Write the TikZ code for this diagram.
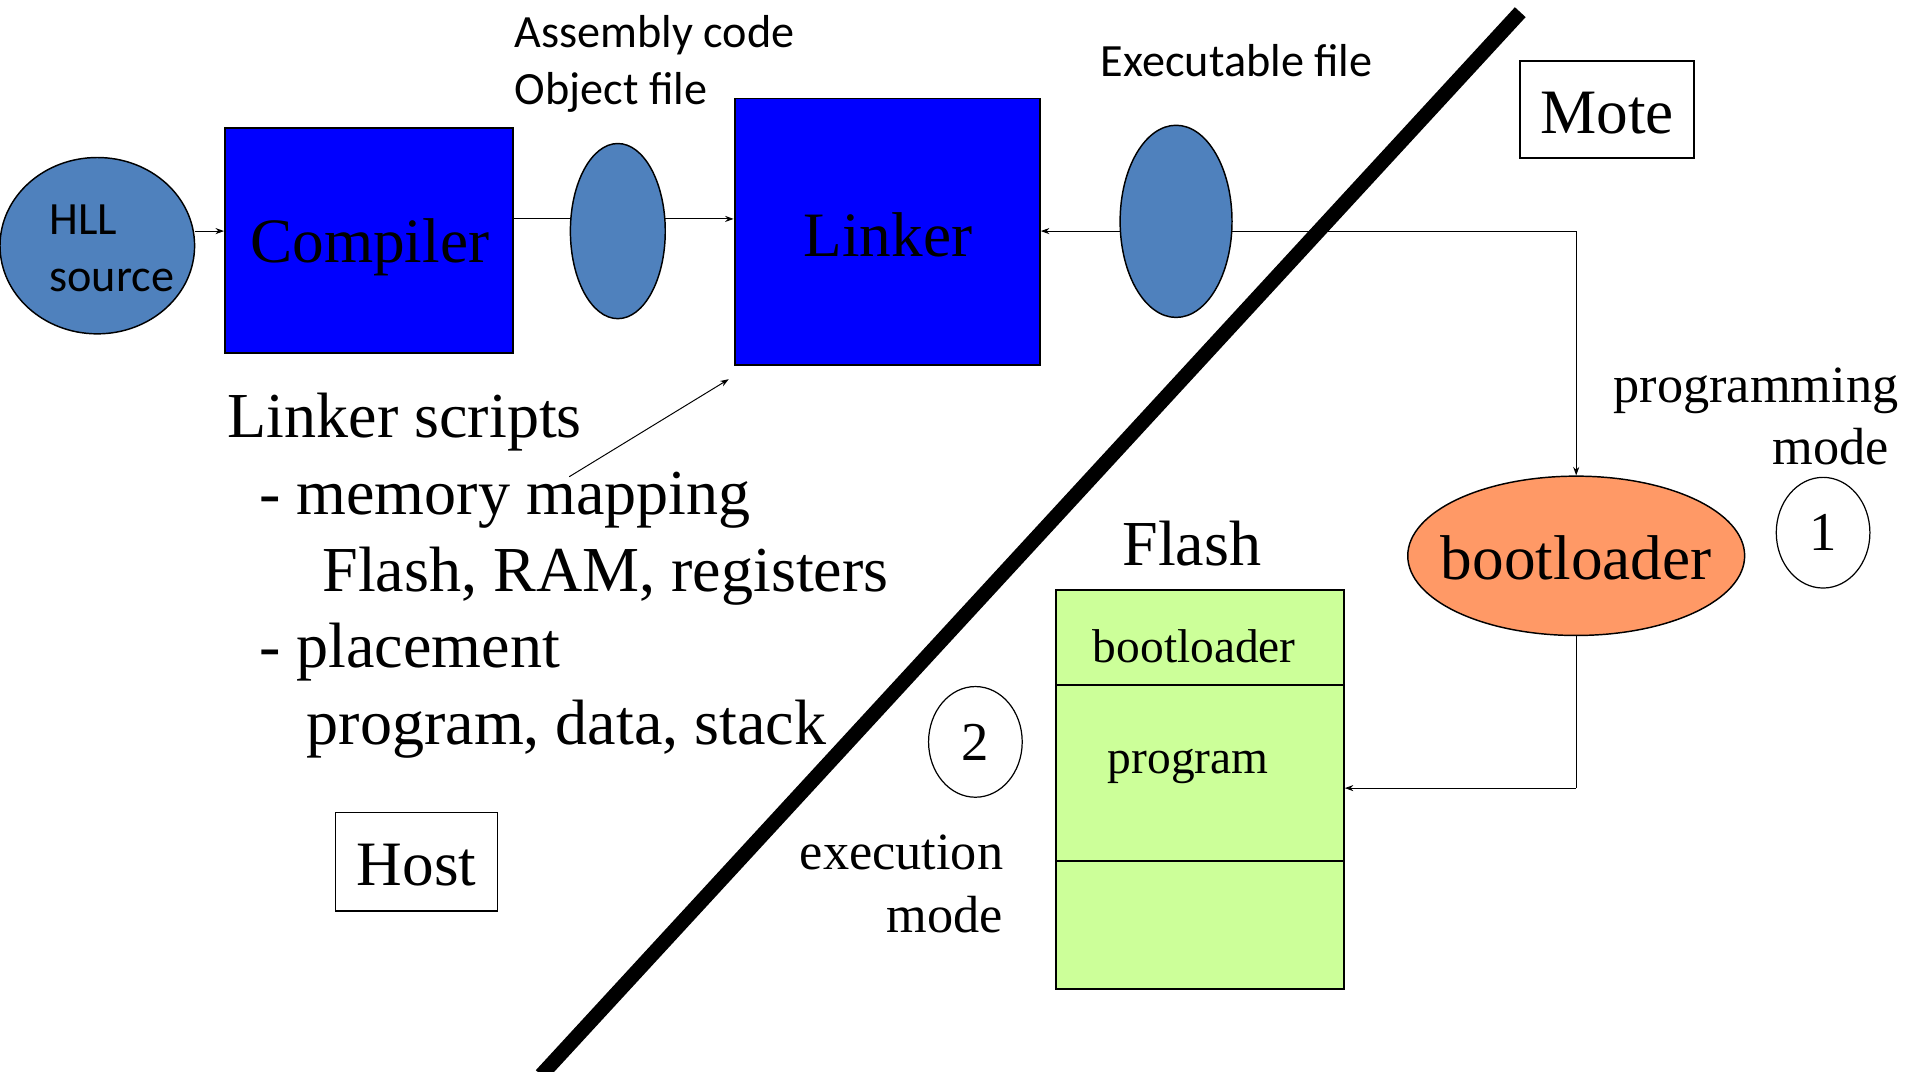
\documentclass[tikz,border=0pt]{standalone}
\usepackage{fontspec}
\setmainfont{Liberation Serif}
\newfontfamily\calfont{Carlito}
\usetikzlibrary{shapes.geometric,arrows.meta,calc}
\definecolor{boxblue}{HTML}{0000FF}
\definecolor{blobblue}{HTML}{4F81BD}
\definecolor{bootorange}{HTML}{FF9966}
\definecolor{flashgreen}{HTML}{CCFF99}
\newcommand\fsz[2]{\fontsize{#1}{#2}\selectfont}
\tikzset{
  bluebox/.style={draw, line width=1.6pt, fill=boxblue, inner sep=0pt},
  whitebox/.style={draw, line width=1.3pt, fill=white, inner sep=0pt},
  blob/.style={ellipse, draw, line width=1.2pt, fill=blobblue, inner sep=0pt},
  cell/.style={draw, line width=1.5pt, fill=flashgreen, inner sep=0pt, minimum width=237pt},
  numcirc/.style={ellipse, draw, line width=1pt, inner sep=0pt, minimum width=77pt, minimum height=91pt, font=\fsz{45}{50}},
  arr/.style={-{Stealth[length=7pt,width=5pt]}, line width=0.8pt},
  plain/.style={line width=0.8pt},
  serif52/.style={font=\fsz{52.7}{63}, inner sep=0pt},
  serif43/.style={font=\fsz{43}{51}, inner sep=0pt},
  cal37/.style={font=\calfont\fsz{38}{47}, inner sep=0pt},
  bigtext/.style={font=\fsz{52}{60}, inner sep=0pt},
}
\begin{document}
\begin{tikzpicture}[x=1pt,y=-1pt]
\useasboundingbox (0,0) rectangle (1568,881);

\node[bluebox, minimum width=237pt, minimum height=185pt] (compiler) at (303.5,197.5) {};
\node[bigtext] (compilertext) at (304,203) {Compiler};
\node[bluebox, minimum width=251pt, minimum height=219pt] (linker) at (729.5,190.5) {};
\node[bigtext] (linkertext) at (730,193) {Linker};
\node[blob, minimum width=160pt, minimum height=145pt] (hll) at (80,202) {};
\node[cal37, align=left] (hlltext) at (92,204) {HLL\\source};

\draw[arr] (hll.east |- 0,190) -- (compiler.west |- 0,190);
\draw[arr] (compiler.east |- 0,180) -- (linker.west |- 0,180);
\node[blob, minimum width=78pt, minimum height=144pt] (obj) at (508,190) {};

\node[ellipse, draw, line width=1.2pt, fill=bootorange, inner sep=0pt, minimum width=277pt, minimum height=131pt] (boot) at (1296,457) {};
\node[bigtext] (boottext) at (1296,459) {bootloader};

\coordinate (corner1) at (1296,190);
\draw[arr] (corner1) -- (linker.east |- corner1);
\draw[arr] (corner1) -- (boot.north);
\node[blob, minimum width=92pt, minimum height=158pt] (exec) at (967,182) {};

% Flash memory
\node[cell, minimum height=78pt] (fboot) at (986.5,524) {};
\node[cell, minimum height=145pt] (fprog) at (986.5,635.5) {};
\node[cell, minimum height=105pt] (fempty) at (986.5,760.5) {};
\node[font=\fsz{39}{45}, inner sep=0pt] (fboottext) at (982,531) {bootloader};
\node[font=\fsz{39}{45}, inner sep=0pt] (fprogtext) at (977,630) {program};
\node[serif52, anchor=base] (flashlbl) at (980,465) {Flash};

\coordinate (corner2) at (1296,648);
\draw[plain] (boot.south) -- (corner2);
\draw[arr] (corner2) -- (fprog.east |- corner2);

% labels
\node[cal37, anchor=base west] (asm) at (423,39) {Assembly code};
\node[cal37, anchor=base west] (objlbl) at (423,86) {Object file};
\node[cal37, anchor=base west] (execlbl) at (905,63) {Executable file};

\node[serif52, anchor=base west] (ls1) at (187,360) {Linker scripts};
\node[serif52, anchor=base west] (ls2) at (213,423) {- memory mapping};
\node[serif52, anchor=base west] (ls3) at (265,486) {Flash, RAM, registers};
\node[serif52, anchor=base west] (ls4) at (213,549) {- placement};
\node[serif52, anchor=base west] (ls5) at (252,612) {program, data, stack};

\coordinate (mapfoot) at (468,392);
\draw[arr] (mapfoot) -- ($(linker.south west)+(-4,11)$);

\node[serif43, anchor=base east] (pm1) at (1561,331) {programming};
\node[serif43, anchor=base east] (pm2) at (1553,382) {mode};
\node[serif43, anchor=base east] (em1) at (825,715) {execution};
\node[serif43, anchor=base east] (em2) at (825,767) {mode};

\node[numcirc] (one) at (1499,438) {1};
\node[numcirc] (two) at (802,610) {2};

\node[whitebox, minimum width=143pt, minimum height=80pt] (mote) at (1321.5,90) {};
\node[bigtext] (motetext) at (1321.5,93) {Mote};
\node[whitebox, minimum width=133pt, minimum height=81pt] (host) at (342.5,708.5) {};
\node[bigtext] (hosttext) at (342.5,711) {Host};

% dividing line
\draw[line width=12pt] (1250,10) -- (445,884);
\end{tikzpicture}
\end{document}
